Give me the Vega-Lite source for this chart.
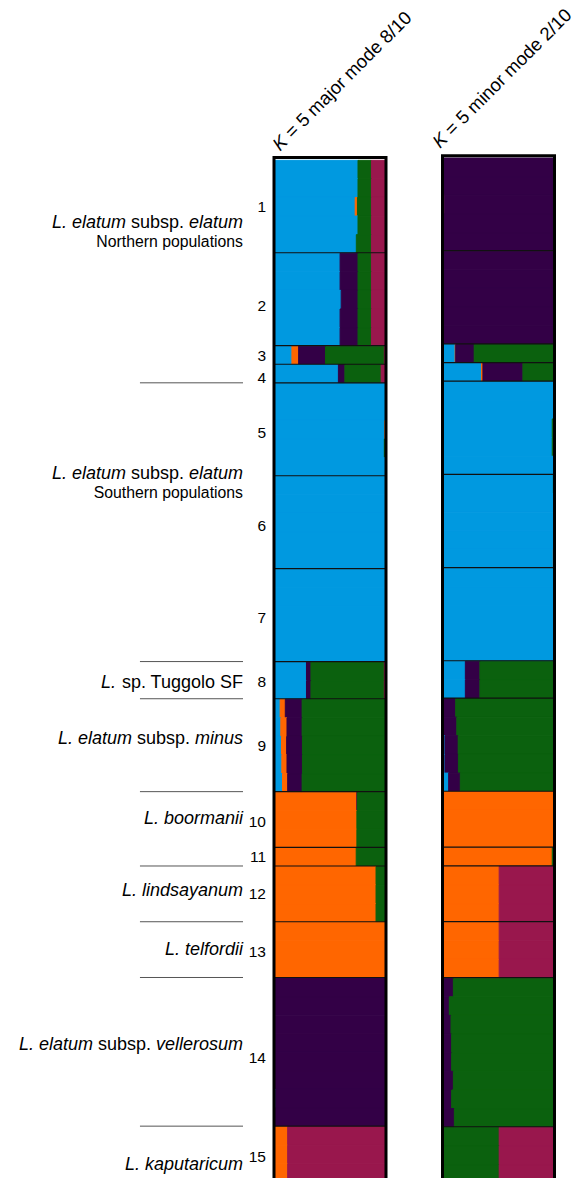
{
  "$schema": "https://vega.github.io/schema/vega-lite/v6.json",
  "padding": 0,
  "background": "white",
  "bounds": "flush",
  "spacing": 31,
  "config": {
    "view": {"stroke": null},
    "axis": {"disable": true},
    "font": "Liberation Sans",
    "legend": {"disable": true}
  },
  "datasets": {
    "pb": [{"b":5},{"b":10},{"b":11},{"b":12},{"b":17},{"b":22},{"b":27},{"b":29},{"b":34},{"b":37},{"b":38},{"b":41},{"b":44},{"b":52}],
    "maj": [
      {"i":0,"k":"a","q":0.75},{"i":0,"k":"d","q":0.12},{"i":0,"k":"e","q":0.13},
      {"i":1,"k":"a","q":0.75},{"i":1,"k":"d","q":0.12},{"i":1,"k":"e","q":0.13},
      {"i":2,"k":"a","q":0.725},{"i":2,"k":"b","q":0.02},{"i":2,"k":"d","q":0.125},{"i":2,"k":"e","q":0.13},
      {"i":3,"k":"a","q":0.75},{"i":3,"k":"d","q":0.12},{"i":3,"k":"e","q":0.13},
      {"i":4,"k":"a","q":0.735},{"i":4,"k":"d","q":0.135},{"i":4,"k":"e","q":0.13},
      {"i":5,"k":"a","q":0.59},{"i":5,"k":"c","q":0.16},{"i":5,"k":"d","q":0.12},{"i":5,"k":"e","q":0.13},
      {"i":6,"k":"a","q":0.59},{"i":6,"k":"c","q":0.16},{"i":6,"k":"d","q":0.12},{"i":6,"k":"e","q":0.13},
      {"i":7,"k":"a","q":0.6},{"i":7,"k":"c","q":0.15},{"i":7,"k":"d","q":0.12},{"i":7,"k":"e","q":0.13},
      {"i":8,"k":"a","q":0.59},{"i":8,"k":"c","q":0.16},{"i":8,"k":"d","q":0.12},{"i":8,"k":"e","q":0.13},
      {"i":9,"k":"a","q":0.59},{"i":9,"k":"c","q":0.16},{"i":9,"k":"d","q":0.12},{"i":9,"k":"e","q":0.13},
      {"i":10,"k":"a","q":0.16},{"i":10,"k":"b","q":0.06},{"i":10,"k":"c","q":0.24},{"i":10,"k":"d","q":0.525},{"i":10,"k":"e","q":0.015},
      {"i":11,"k":"a","q":0.575},{"i":11,"k":"c","q":0.058},{"i":11,"k":"d","q":0.324},{"i":11,"k":"e","q":0.043},
      {"i":12,"k":"a","q":1},{"i":13,"k":"a","q":1},
      {"i":14,"k":"a","q":0.99},{"i":14,"k":"b","q":0.01},
      {"i":15,"k":"a","q":0.985},{"i":15,"k":"d","q":0.015},
      {"i":16,"k":"a","q":1},{"i":17,"k":"a","q":1},{"i":18,"k":"a","q":1},{"i":19,"k":"a","q":1},{"i":20,"k":"a","q":1},{"i":21,"k":"a","q":1},
      {"i":22,"k":"a","q":1},{"i":23,"k":"a","q":1},{"i":24,"k":"a","q":1},{"i":25,"k":"a","q":1},{"i":26,"k":"a","q":1},
      {"i":27,"k":"a","q":0.29},{"i":27,"k":"c","q":0.04},{"i":27,"k":"d","q":0.655},{"i":27,"k":"e","q":0.015},
      {"i":28,"k":"a","q":0.29},{"i":28,"k":"c","q":0.04},{"i":28,"k":"d","q":0.655},{"i":28,"k":"e","q":0.015},
      {"i":29,"k":"a","q":0.055},{"i":29,"k":"b","q":0.046},{"i":29,"k":"c","q":0.15},{"i":29,"k":"d","q":0.749},
      {"i":30,"k":"a","q":0.061},{"i":30,"k":"b","q":0.055},{"i":30,"k":"c","q":0.135},{"i":30,"k":"d","q":0.749},
      {"i":31,"k":"a","q":0.067},{"i":31,"k":"b","q":0.046},{"i":31,"k":"c","q":0.141},{"i":31,"k":"d","q":0.746},
      {"i":32,"k":"a","q":0.07},{"i":32,"k":"b","q":0.046},{"i":32,"k":"c","q":0.138},{"i":32,"k":"d","q":0.746},
      {"i":33,"k":"a","q":0.076},{"i":33,"k":"b","q":0.046},{"i":33,"k":"c","q":0.129},{"i":33,"k":"d","q":0.749},
      {"i":34,"k":"b","q":0.74},{"i":34,"k":"c","q":0.005},{"i":34,"k":"d","q":0.255},
      {"i":35,"k":"b","q":0.74},{"i":35,"k":"d","q":0.26},
      {"i":36,"k":"b","q":0.74},{"i":36,"k":"d","q":0.26},
      {"i":37,"k":"b","q":0.734},{"i":37,"k":"d","q":0.266},
      {"i":38,"k":"b","q":0.911},{"i":38,"k":"d","q":0.089},
      {"i":39,"k":"b","q":0.911},{"i":39,"k":"d","q":0.089},
      {"i":40,"k":"b","q":0.911},{"i":40,"k":"d","q":0.089},
      {"i":41,"k":"b","q":1},{"i":42,"k":"b","q":1},{"i":43,"k":"b","q":1},
      {"i":44,"k":"c","q":1},{"i":45,"k":"c","q":1},{"i":46,"k":"c","q":1},{"i":47,"k":"c","q":1},{"i":48,"k":"c","q":1},
      {"i":49,"k":"a","q":0.008},{"i":49,"k":"c","q":0.992},
      {"i":50,"k":"a","q":0.015},{"i":50,"k":"c","q":0.985},
      {"i":51,"k":"c","q":1},
      {"i":52,"k":"b","q":0.122},{"i":52,"k":"e","q":0.878},
      {"i":53,"k":"b","q":0.122},{"i":53,"k":"e","q":0.878},
      {"i":54,"k":"b","q":0.122},{"i":54,"k":"e","q":0.878}
    ],
    "min": [
      {"i":0,"k":"c","q":1},{"i":1,"k":"c","q":1},
      {"i":2,"k":"b","q":0.015},{"i":2,"k":"c","q":0.985},
      {"i":3,"k":"c","q":1},{"i":4,"k":"c","q":1},{"i":5,"k":"c","q":1},
      {"i":6,"k":"a","q":0.008},{"i":6,"k":"c","q":0.992},
      {"i":7,"k":"c","q":1},{"i":8,"k":"c","q":1},{"i":9,"k":"c","q":1},
      {"i":10,"k":"a","q":0.113},{"i":10,"k":"b","q":0.005},{"i":10,"k":"c","q":0.165},{"i":10,"k":"d","q":0.717},
      {"i":11,"k":"a","q":0.349},{"i":11,"k":"b","q":0.012},{"i":11,"k":"c","q":0.357},{"i":11,"k":"d","q":0.282},
      {"i":12,"k":"a","q":0.992},{"i":12,"k":"e","q":0.008},
      {"i":13,"k":"a","q":1},
      {"i":14,"k":"a","q":0.98},{"i":14,"k":"d","q":0.02},
      {"i":15,"k":"a","q":0.98},{"i":15,"k":"d","q":0.02},
      {"i":16,"k":"a","q":1},
      {"i":17,"k":"a","q":0.99},{"i":17,"k":"d","q":0.01},
      {"i":18,"k":"a","q":0.992},{"i":18,"k":"e","q":0.008},
      {"i":19,"k":"a","q":0.992},{"i":19,"k":"e","q":0.008},
      {"i":20,"k":"a","q":1},
      {"i":21,"k":"a","q":0.99},{"i":21,"k":"b","q":0.01},
      {"i":22,"k":"a","q":1},{"i":23,"k":"a","q":1},{"i":24,"k":"a","q":1},{"i":25,"k":"a","q":1},{"i":26,"k":"a","q":1},
      {"i":27,"k":"a","q":0.204},{"i":27,"k":"c","q":0.13},{"i":27,"k":"d","q":0.666},
      {"i":28,"k":"a","q":0.204},{"i":28,"k":"c","q":0.13},{"i":28,"k":"d","q":0.666},
      {"i":29,"k":"c","q":0.118},{"i":29,"k":"d","q":0.882},
      {"i":30,"k":"a","q":0.008},{"i":30,"k":"c","q":0.12},{"i":30,"k":"d","q":0.872},
      {"i":31,"k":"a","q":0.022},{"i":31,"k":"c","q":0.118},{"i":31,"k":"d","q":0.86},
      {"i":32,"k":"a","q":0.022},{"i":32,"k":"c","q":0.12},{"i":32,"k":"d","q":0.858},
      {"i":33,"k":"a","q":0.055},{"i":33,"k":"c","q":0.104},{"i":33,"k":"d","q":0.841},
      {"i":34,"k":"b","q":1},{"i":35,"k":"b","q":1},
      {"i":36,"k":"b","q":0.995},{"i":36,"k":"d","q":0.005},
      {"i":37,"k":"b","q":0.98},{"i":37,"k":"d","q":0.02},
      {"i":38,"k":"b","q":0.506},{"i":38,"k":"e","q":0.494},
      {"i":39,"k":"b","q":0.506},{"i":39,"k":"e","q":0.494},
      {"i":40,"k":"b","q":0.506},{"i":40,"k":"e","q":0.494},
      {"i":41,"k":"b","q":0.506},{"i":41,"k":"e","q":0.494},
      {"i":42,"k":"b","q":0.506},{"i":42,"k":"e","q":0.494},
      {"i":43,"k":"b","q":0.506},{"i":43,"k":"e","q":0.494},
      {"i":44,"k":"c","q":0.097},{"i":44,"k":"d","q":0.903},
      {"i":45,"k":"c","q":0.061},{"i":45,"k":"d","q":0.939},
      {"i":46,"k":"c","q":0.076},{"i":46,"k":"d","q":0.924},
      {"i":47,"k":"c","q":0.082},{"i":47,"k":"d","q":0.918},
      {"i":48,"k":"c","q":0.082},{"i":48,"k":"d","q":0.918},
      {"i":49,"k":"c","q":0.097},{"i":49,"k":"d","q":0.903},
      {"i":50,"k":"c","q":0.082},{"i":50,"k":"d","q":0.918},
      {"i":51,"k":"c","q":0.106},{"i":51,"k":"d","q":0.894},
      {"i":52,"k":"d","q":0.506},{"i":52,"k":"e","q":0.494},
      {"i":53,"k":"d","q":0.506},{"i":53,"k":"e","q":0.494},
      {"i":54,"k":"d","q":0.506},{"i":54,"k":"e","q":0.494}
    ]
  },
  "hconcat": [
    {
      "width": 243,
      "height": 1178,
      "layer": [
        {
          "data": {"values": [{"b":12},{"b":27},{"b":29},{"b":34},{"b":38},{"b":41},{"b":44},{"b":52}]},
          "mark": {"type": "rule", "color": "#555555", "strokeWidth": 1},
          "encoding": {
            "y": {"field": "b", "type": "quantitative", "scale": {"domain": [-8.6, 54.79], "reverse": true, "nice": false, "zero": false}},
            "x": {"datum": 0.576, "type": "quantitative", "scale": {"domain": [0, 1], "nice": false, "zero": false}},
            "x2": {"datum": 1}
          }
        },
        {
          "data": {"values": [
            {"t":"1","y":2.79},{"t":"2","y":8.12},{"t":"3","y":10.81},{"t":"4","y":12.0},{"t":"5","y":14.99},
            {"t":"6","y":19.98},{"t":"7","y":24.93},{"t":"8","y":28.35},{"t":"9","y":31.8},{"t":"10","y":35.92},
            {"t":"11","y":37.77},{"t":"12","y":39.79},{"t":"13","y":42.88},{"t":"14","y":48.62},{"t":"15","y":53.93}
          ]},
          "mark": {"type": "text", "align": "right", "baseline": "alphabetic", "dx": 23, "fontSize": 15.5, "color": "#000000"},
          "encoding": {
            "x": {"datum": 1, "type": "quantitative"},
            "y": {"field": "y", "type": "quantitative"},
            "text": {"field": "t"}
          }
        },
        {
          "data": {"values": [
            {"t":"elatum","y":3.69},{"t":"elatum","y":17.18},{"t":"minus","y":31.44},{"t":"vellerosum","y":47.9},
            {"t":"L. boormanii","y":35.74},{"t":"L. lindsayanum","y":39.6},{"t":"L. telfordii","y":42.79},{"t":"L. kaputaricum","y":54.34}
          ]},
          "mark": {"type": "text", "align": "right", "baseline": "alphabetic", "fontSize": 18, "fontStyle": "italic", "color": "#000000"},
          "encoding": {"x": {"datum": 1, "type": "quantitative"}, "y": {"field": "y", "type": "quantitative"}, "text": {"field": "t"}}
        },
        {
          "data": {"values": [{"t":"sp. Tuggolo SF","y":28.41}]},
          "mark": {"type": "text", "align": "right", "baseline": "alphabetic", "fontSize": 18, "color": "#000000"},
          "encoding": {"x": {"datum": 1, "type": "quantitative"}, "y": {"field": "y", "type": "quantitative"}, "text": {"field": "t"}}
        },
        {
          "data": {"values": [{"t":"L.","y":28.41}]},
          "mark": {"type": "text", "align": "right", "baseline": "alphabetic", "fontSize": 18, "fontStyle": "italic", "dx": -127.06, "color": "#000000"},
          "encoding": {"x": {"datum": 1, "type": "quantitative"}, "y": {"field": "y", "type": "quantitative"}, "text": {"field": "t"}}
        },
        {
          "data": {"values": [{"t":"subsp.","y":3.69},{"t":"subsp.","y":17.18}]},
          "mark": {"type": "text", "align": "right", "baseline": "alphabetic", "fontSize": 18, "dx": -59.0, "color": "#000000"},
          "encoding": {"x": {"datum": 1, "type": "quantitative"}, "y": {"field": "y", "type": "quantitative"}, "text": {"field": "t"}}
        },
        {
          "data": {"values": [{"t":"L. elatum","y":3.69},{"t":"L. elatum","y":17.18}]},
          "mark": {"type": "text", "align": "right", "baseline": "alphabetic", "fontSize": 18, "fontStyle": "italic", "dx": -117.06, "color": "#000000"},
          "encoding": {"x": {"datum": 1, "type": "quantitative"}, "y": {"field": "y", "type": "quantitative"}, "text": {"field": "t"}}
        },
        {
          "data": {"values": [{"t":"subsp.","y":31.44}]},
          "mark": {"type": "text", "align": "right", "baseline": "alphabetic", "fontSize": 18, "dx": -53.0, "color": "#000000"},
          "encoding": {"x": {"datum": 1, "type": "quantitative"}, "y": {"field": "y", "type": "quantitative"}, "text": {"field": "t"}}
        },
        {
          "data": {"values": [{"t":"L. elatum","y":31.44}]},
          "mark": {"type": "text", "align": "right", "baseline": "alphabetic", "fontSize": 18, "fontStyle": "italic", "dx": -111.04, "color": "#000000"},
          "encoding": {"x": {"datum": 1, "type": "quantitative"}, "y": {"field": "y", "type": "quantitative"}, "text": {"field": "t"}}
        },
        {
          "data": {"values": [{"t":"subsp.","y":47.9}]},
          "mark": {"type": "text", "align": "right", "baseline": "alphabetic", "fontSize": 18, "dx": -92.0, "color": "#000000"},
          "encoding": {"x": {"datum": 1, "type": "quantitative"}, "y": {"field": "y", "type": "quantitative"}, "text": {"field": "t"}}
        },
        {
          "data": {"values": [{"t":"L. elatum","y":47.9}]},
          "mark": {"type": "text", "align": "right", "baseline": "alphabetic", "fontSize": 18, "fontStyle": "italic", "dx": -150.05, "color": "#000000"},
          "encoding": {"x": {"datum": 1, "type": "quantitative"}, "y": {"field": "y", "type": "quantitative"}, "text": {"field": "t"}}
        },
        {
          "data": {"values": [{"t":"Northern populations","y":4.68},{"t":"Southern populations","y":18.22}]},
          "mark": {"type": "text", "align": "right", "baseline": "alphabetic", "fontSize": 15.8, "color": "#000000"},
          "encoding": {"x": {"datum": 1, "type": "quantitative"}, "y": {"field": "y", "type": "quantitative"}, "text": {"field": "t"}}
        }
      ]
    },
    {
      "bounds": "flush",
      "spacing": 56.5,
      "hconcat": [
        {
          "width": 112,
          "height": 1178,
          "layer": [
            {
              "data": {"name": "maj"},
              "mark": {"type": "bar", "binSpacing": 0, "strokeWidth": 1},
              "encoding": {
                "y": {"field": "i", "type": "quantitative", "bin": {"step": 1, "extent": [0, 55]}, "scale": {"domain": [-8.6, 54.79], "reverse": true, "nice": false, "zero": false}, "axis": null},
                "x": {"field": "q", "type": "quantitative", "stack": "normalize", "scale": {"domain": [0, 1], "nice": false}, "axis": null},
                "color": {"field": "k", "type": "nominal", "scale": {"domain": ["a","b","c","d","e"], "range": ["#0099e0","#ff6600","#330046","#0b610e","#99174d"]}, "legend": null},
                "stroke": {"field": "k", "type": "nominal", "scale": {"domain": ["a","b","c","d","e"], "range": ["#0099e0","#ff6600","#330046","#0b610e","#99174d"]}, "legend": null},
                "order": {"field": "k", "sort": "ascending"}
              }
            },
            {
              "data": {"name": "pb"},
              "mark": {"type": "rule", "color": "#111111", "strokeWidth": 1.2},
              "encoding": {"y": {"field": "b", "type": "quantitative"}}
            },
            {
              "data": {"values": [{}]},
              "mark": {"type": "rect", "fillOpacity": 0, "stroke": "#000000", "strokeWidth": 3},
              "encoding": {"x": {"datum": 0, "type": "quantitative"}, "x2": {"datum": 1}, "y": {"datum": -0.12, "type": "quantitative"}, "y2": {"datum": 55}}
            },
            {
              "data": {"values": [{"t": "K"}]},
              "mark": {"type": "text", "angle": 315, "align": "left", "baseline": "alphabetic", "fontSize": 18.5, "fontStyle": "italic", "dx": 10, "dy": -1.5, "color": "#000000"},
              "encoding": {"x": {"datum": 0, "type": "quantitative"}, "y": {"datum": 0, "type": "quantitative"}, "text": {"field": "t"}}
            },
            {
              "data": {"values": [{"t": "= 5 major mode 8/10"}]},
              "mark": {"type": "text", "angle": 315, "align": "left", "baseline": "alphabetic", "fontSize": 18.5, "dx": 27.5, "dy": -1.5, "color": "#000000"},
              "encoding": {"x": {"datum": 0, "type": "quantitative"}, "y": {"datum": 0, "type": "quantitative"}, "text": {"field": "t"}}
            }
          ]
        },
        {
          "width": 112,
          "height": 1178,
          "layer": [
            {
              "data": {"name": "min"},
              "mark": {"type": "bar", "binSpacing": 0, "strokeWidth": 1},
              "encoding": {
                "y": {"field": "i", "type": "quantitative", "bin": {"step": 1, "extent": [0, 55]}, "scale": {"domain": [-8.45, 54.75], "reverse": true, "nice": false, "zero": false}, "axis": null},
                "x": {"field": "q", "type": "quantitative", "stack": "normalize", "scale": {"domain": [0, 1], "nice": false}, "axis": null},
                "color": {"field": "k", "type": "nominal", "scale": {"domain": ["a","b","c","d","e"], "range": ["#0099e0","#ff6600","#330046","#0b610e","#99174d"]}, "legend": null},
                "stroke": {"field": "k", "type": "nominal", "scale": {"domain": ["a","b","c","d","e"], "range": ["#0099e0","#ff6600","#330046","#0b610e","#99174d"]}, "legend": null},
                "order": {"field": "k", "sort": "ascending"}
              }
            },
            {
              "data": {"name": "pb"},
              "mark": {"type": "rule", "color": "#111111", "strokeWidth": 1.2},
              "encoding": {"y": {"field": "b", "type": "quantitative"}}
            },
            {
              "data": {"values": [{}]},
              "mark": {"type": "rect", "fillOpacity": 0, "stroke": "#000000", "strokeWidth": 3},
              "encoding": {"x": {"datum": 0, "type": "quantitative"}, "x2": {"datum": 1}, "y": {"datum": -0.1, "type": "quantitative"}, "y2": {"datum": 55}}
            },
            {
              "data": {"values": [{"t": "K"}]},
              "mark": {"type": "text", "angle": 315, "align": "left", "baseline": "alphabetic", "fontSize": 18.5, "fontStyle": "italic", "dx": 4.2, "dy": -7.8, "color": "#000000"},
              "encoding": {"x": {"datum": 0, "type": "quantitative"}, "y": {"datum": 0, "type": "quantitative"}, "text": {"field": "t"}}
            },
            {
              "data": {"values": [{"t": "= 5 minor mode 2/10"}]},
              "mark": {"type": "text", "angle": 315, "align": "left", "baseline": "alphabetic", "fontSize": 18.5, "dx": 21.7, "dy": -7.8, "color": "#000000"},
              "encoding": {"x": {"datum": 0, "type": "quantitative"}, "y": {"datum": 0, "type": "quantitative"}, "text": {"field": "t"}}
            }
          ]
        }
      ]
    }
  ]
}
